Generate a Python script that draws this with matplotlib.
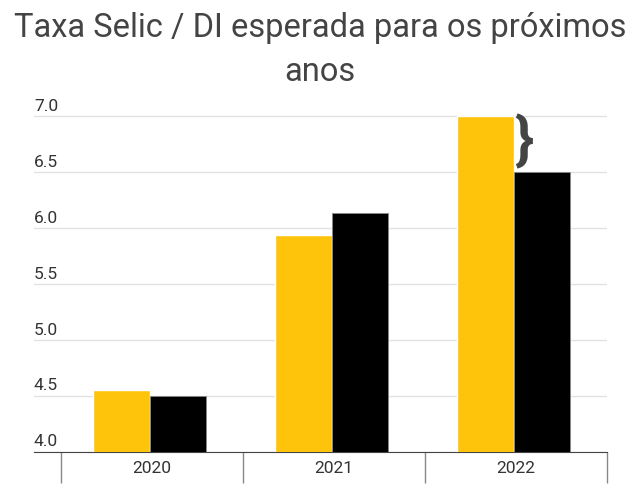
import numpy as np
import matplotlib.pyplot as plt

years = ["2020", "2021", "2022"]
selic = [4.55, 5.94, 7.0]
di = [4.50, 6.13, 6.50]
yticks = [4.0, 4.5, 5.0, 5.5, 6.0, 6.5, 7.0]

plt.rcParams['font.family'] = ['Roboto', 'DejaVu Sans']

fig = plt.figure(figsize=(6.4, 4.89), dpi=100)
ax = fig.add_axes([0.053, 0.074, 0.895, 0.721])

x = np.arange(len(years))
w = 0.31
ax.bar(x - w / 2 - 0.012, selic, w, color="#FEC40C", edgecolor="white", linewidth=1, zorder=3)
ax.bar(x + w / 2 - 0.012, di, w, color="black", edgecolor="#888888", linewidth=0.6, zorder=3)

ax.set_ylim(4.0, 7.15)
ax.set_xlim(-0.648, 2.5)

# grid + y labels sitting above the lines
for v in yticks:
    ax.axhline(v, color="#e2e2e2", lw=1, zorder=1)
    ax.text(0.0, v + 0.03, f"{v:.1f}", transform=ax.get_yaxis_transform(),
            ha="left", va="bottom", fontsize=12.5, color="#333333")
ax.set_yticks([])

ax.set_xticks(x)
ax.set_xticklabels(years, fontsize=12.5, color="#333333")
ax.set_xticks([-0.5, 0.5, 1.5, 2.5], minor=True)
ax.tick_params(axis="x", which="major", length=0, pad=6)
ax.tick_params(axis="x", which="minor", length=22, color="#888888", width=1)

for s in ["top", "right", "left"]:
    ax.spines[s].set_visible(False)
ax.spines["bottom"].set_color("#444444")

# brace marking the spread in 2022
ax.text(1.99, 6.77, "}", fontsize=42, fontweight="bold", color="#444444",
        ha="left", va="center", zorder=4)

fig.text(0.5, 0.943, "Taxa Selic / DI esperada para os próximos", ha="center", va="center",
         fontsize=23.5, color="#444444")
fig.text(0.5, 0.853, "anos", ha="center", va="center", fontsize=23.5, color="#444444")

fig.savefig("out.png", dpi=100)
